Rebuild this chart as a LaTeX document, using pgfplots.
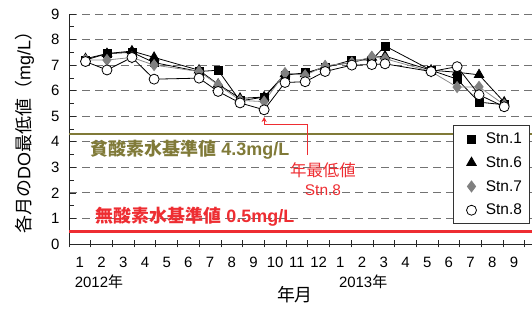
\documentclass[border=0pt]{standalone}
\usepackage{pgfplots}
\usepackage{pgfplotstable}
\pgfplotsset{compat=1.18}
\usepackage{fontspec}
\setmainfont{Liberation Sans}
\newfontfamily\jp{Noto Sans CJK JP}
\usetikzlibrary{arrows.meta}
\definecolor{olivec}{RGB}{128,122,56}
\definecolor{redc}{RGB}{238,45,50}
\definecolor{gridc}{RGB}{115,115,115}

\pgfplotstableread{
x     s1    s6    s7    s8
0.76  7.20  7.25  7.20  7.14
1.75  7.45  7.45  7.20  6.81
2.90  7.50  7.55  7.30  7.30
3.92  7.10  7.30  7.00  6.45
5.99  6.75  6.80  6.75  6.49
6.87  6.80  6.25  6.23  5.97
7.88  5.60  5.70  5.62  5.52
8.99  5.75  5.75  5.57  5.25
9.95  6.60  6.65  6.69  6.32
10.88 6.70  6.65  6.60  6.35
11.80 6.90  6.95  6.97  6.75
13.03 7.20  7.10  7.10  7.00
13.95 7.20  7.30  7.33  7.02
14.56 7.75  7.35  7.25  7.05
16.68 6.80  6.80  6.75  6.75
17.88 6.45  6.72  6.14  6.94
18.89 5.55  6.62  6.15  5.84
20.05 5.45  5.55  5.45  5.37
}\datatable

\begin{document}
\begin{tikzpicture}
\begin{axis}[
  name=ax,
  scale only axis, width=463bp, height=230bp,
  xmin=0, xmax=21.33, ymin=0, ymax=9,
  axis x line=bottom, axis y line=left,
  axis line style={-, black!85, line width=0.8bp},
  xtick={0,...,21},
  xticklabels={1,2,3,4,5,6,7,8,9,10,11,12,1,2,3,4,5,6,7,8,9},
  x tick label as interval,
  ytick={0,...,9}, minor y tick num=1,
  xtick align=center, ytick align=inside,
  major tick length=7bp, minor tick length=5bp,
  tick style={black!85, line width=0.7bp},
  ymajorgrids,
  major grid style={gridc, line width=0.8bp, dash pattern=on 8bp off 5bp},
  tick label style={font=\fontsize{15}{17}\selectfont},
  xticklabel style={yshift=-6bp},
  yticklabel style={xshift=-6bp},
  /pgf/number format/assume math mode=true,
  clip=false,
  legend style={at={(axis cs:17.7,4.66)}, anchor=north west,
    draw=black!80, line width=0.8bp, fill=white,
    font=\fontsize{15.5}{17}\selectfont, row sep=7.5bp, inner sep=5.5bp},
  legend cell align=left,
  legend image code/.code={\path (0bp,0bp) (24bp,0bp); \draw[#1] plot[only marks] coordinates {(12bp,0bp)};},
]
\addplot[olivec, line width=2.6bp, forget plot] coordinates {(0,4.3) (21.33,4.3)};
\addplot[redc, line width=2.6bp, forget plot] coordinates {(0,0.5) (21.33,0.5)};

\addplot[black, line width=0.8bp, mark=square*, mark size=4bp, mark options={solid, fill=black, draw=black}] table[x=x,y=s1] {\datatable};
\addlegendentry{Stn.1}
\addplot[black, line width=0.8bp, mark=triangle*, mark size=5.5bp, mark options={solid, fill=black, draw=black}] table[x=x,y=s6] {\datatable};
\addlegendentry{Stn.6}
\addplot[black!45, line width=0.8bp, mark=diamond*, mark size=5.5bp, mark options={solid, fill=black!50, draw=black!50}] table[x=x,y=s7] {\datatable};
\addlegendentry{Stn.7}
\addplot[black, line width=0.8bp, mark=*, mark size=5bp, mark options={solid, fill=white, draw=black}] table[x=x,y=s8] {\datatable};
\addlegendentry{Stn.8}

\node[anchor=west, text=olivec, font=\fontsize{18}{18}\selectfont\bfseries] at (axis cs:0.85,3.68) {{\jp 貧酸素水基準値} 4.3mg/L};
\node[anchor=west, text=redc, font=\fontsize{18}{18}\selectfont\bfseries] at (axis cs:1.08,1.07) {{\jp 無酸素水基準値} 0.5mg/L};

\draw[redc, line width=1bp, -{Stealth[length=5bp,width=5bp]}] (axis cs:10.97,3.48) -- (axis cs:10.97,4.66) -- (axis cs:8.99,4.66) -- (axis cs:8.99,4.97);
\node[text=redc, font=\fontsize{16.5}{17}\selectfont\jp] at (axis cs:11.7,2.9) {年最低値};
\node[text=redc, font=\fontsize{15.5}{17}\selectfont] at (axis cs:11.7,2.11) {Stn.8};

\node[font=\fontsize{15}{17}\selectfont] at (axis cs:1.38,-1.49) {2012{\jp 年}};
\node[font=\fontsize{15}{17}\selectfont] at (axis cs:13.55,-1.49) {2013{\jp 年}};
\node[font=\fontsize{18}{20}\selectfont\jp] at (axis cs:10.41,-2.0) {年月};
\node[rotate=90, font=\fontsize{18}{20}\selectfont] at (axis cs:-2.05,4.54) {{\jp 各月の}DO{\jp 最低値（}mg/L{\jp ）}};
\end{axis}
\pgfresetboundingbox
\useasboundingbox ([xshift=-69bp,yshift=-65bp]ax.south west) rectangle ([yshift=14bp]ax.north east);
\end{tikzpicture}
\end{document}
